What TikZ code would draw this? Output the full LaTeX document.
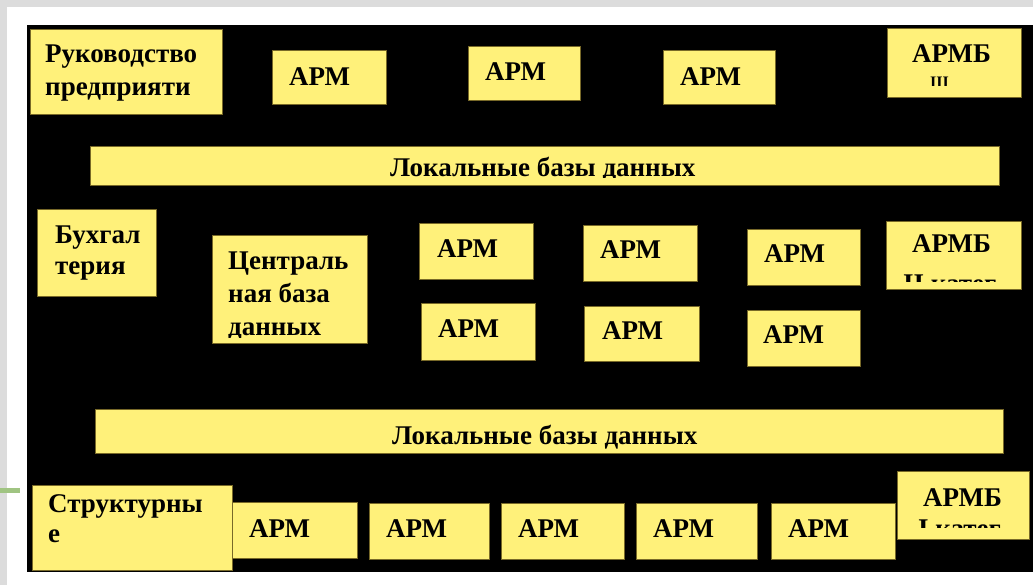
\documentclass[tikz,border=0pt]{standalone}
\usepackage{fontspec}
\setmainfont{Liberation Serif}
\definecolor{boxyellow}{RGB}{255,241,122}
\definecolor{boxedge}{RGB}{120,105,40}
\definecolor{pagegray}{RGB}{220,220,220}
\definecolor{rulegreen}{RGB}{160,196,130}
% box given by its corners in pixel units (y grows downwards)
\newcommand\ybx[5]{%
  \node[ybox, minimum width={(#4-#2)*1pt}, minimum height={(#5-#3)*1pt}]
    (#1) at ({(#2+#4)/2},{(#3+#5)/2}) {};}
\begin{document}
\begin{tikzpicture}[x=1pt,y=-1pt,
  ybox/.style={fill=boxyellow, draw=boxedge, line width=0.7pt, inner sep=0pt, outer sep=0pt},
  lbl/.style={anchor=base west, inner sep=0pt, text=black,
              font=\bfseries\fontsize{27}{32}\selectfont},
  small/.style={lbl, font=\bfseries\fontsize{16}{19}\selectfont}]
\useasboundingbox (0,0) rectangle (1033,585);
% page and slide background
\fill[pagegray] (0,0) rectangle (1033,585);
\fill[white] (7,7) rectangle (1033,585);
\fill[rulegreen] (0,488) rectangle (20,493);
\fill[black] (27,25) rectangle (1033,572);

% top row
\ybx{ruk}{30}{29}{222}{114}
\node[lbl] (ruk-a) at (45,63) {Руководство};
\node[lbl] (ruk-b) at (45,96) {предприяти};
\ybx{t1}{272}{50}{386}{104}
\node[lbl] (t1-a) at (289,86) {АРМ};
\ybx{t2}{468}{46}{580}{100}
\node[lbl] (t2-a) at (485,81) {АРМ};
\ybx{t3}{663}{50}{775}{104}
\node[lbl] (t3-a) at (680,86) {АРМ};
\ybx{armb3}{887}{28}{1021}{97}
\node[lbl] (armb3-a) at (912,63) {АРМБ};
\begin{scope}
  \clip (887,28) rectangle (1021,86);
  \node[small] (armb3-b) at (930,88) {III};
\end{scope}

% upper local databases bar
\ybx{bar1}{90}{146}{999}{185}
\begin{scope}
  \clip (90,146) rectangle (999,178);
  \node[lbl] (bar1-a) at (390,177) {Локальные базы данных};
\end{scope}

% middle block
\ybx{buh}{37}{209}{156}{296}
\node[lbl] (buh-a) at (55,244) {Бухгал};
\node[lbl] (buh-b) at (55,275) {терия};
\ybx{cdb}{212}{235}{367}{343}
\begin{scope}
  \clip (212,235) rectangle (367,337);
  \node[lbl] (cdb-a) at (228,270) {Централь};
  \node[lbl] (cdb-b) at (228,302) {ная база};
  \node[lbl] (cdb-c) at (228,335) {данных};
\end{scope}
\ybx{m11}{419}{223}{533}{279}
\node[lbl] (m11-a) at (437,258) {АРМ};
\ybx{m12}{583}{225}{697}{281}
\node[lbl] (m12-a) at (600,259) {АРМ};
\ybx{m13}{747}{229}{860}{285}
\node[lbl] (m13-a) at (764,263) {АРМ};
\ybx{m21}{421}{303}{535}{360}
\node[lbl] (m21-a) at (438,337) {АРМ};
\ybx{m22}{584}{306}{699}{361}
\node[lbl] (m22-a) at (602,339) {АРМ};
\ybx{m23}{747}{310}{860}{366}
\node[lbl] (m23-a) at (763,343) {АРМ};
\ybx{armb2}{886}{221}{1021}{289}
\node[lbl] (armb2-a) at (912,253) {АРМБ};
\begin{scope}
  \clip (886,221) rectangle (1021,282);
  \node[lbl] (armb2-b) at (903,292) {II катег};
\end{scope}

% lower local databases bar
\ybx{bar2}{95}{409}{1003}{453}
\node[lbl] (bar2-a) at (392,444) {Локальные базы данных};

% bottom row
\ybx{str}{32}{485}{232}{570}
\node[lbl] (str-a) at (48,512) {Структурны};
\node[lbl] (str-b) at (48,542) {е};
\ybx{b1}{232}{502}{357}{558}
\node[lbl] (b1-a) at (249,537) {АРМ};
\ybx{b2}{369}{503}{489}{559}
\node[lbl] (b2-a) at (386,537) {АРМ};
\ybx{b3}{501}{503}{624}{559}
\node[lbl] (b3-a) at (518,537) {АРМ};
\ybx{b4}{636}{503}{757}{559}
\node[lbl] (b4-a) at (653,537) {АРМ};
\ybx{b5}{771}{503}{895}{559}
\node[lbl] (b5-a) at (788,537) {АРМ};
\ybx{armb1}{897}{471}{1029}{539}
\node[lbl] (armb1-a) at (923,506) {АРМБ};
\begin{scope}
  \clip (897,471) rectangle (1029,527);
  \node[lbl] (armb1-b) at (918,537) {I катег};
\end{scope}
\end{tikzpicture}
\end{document}
